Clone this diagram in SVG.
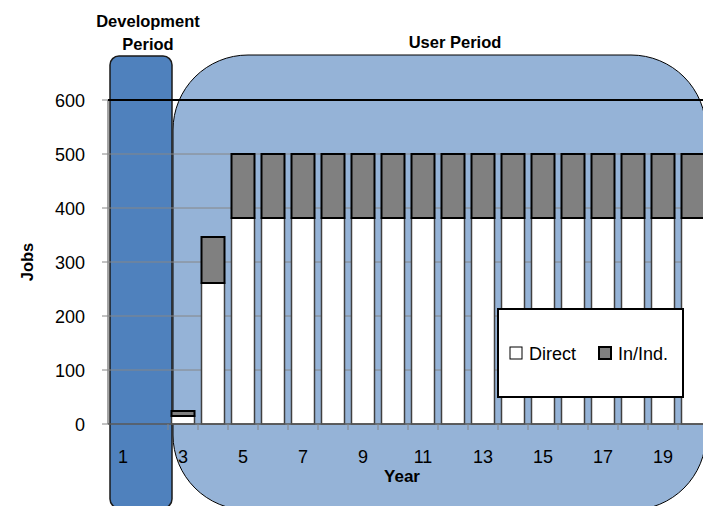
<svg xmlns="http://www.w3.org/2000/svg" width="703" height="506" viewBox="0 0 703 506">
<style>
.lbl{font-family:"Liberation Sans",Arial,sans-serif;font-size:18px;fill:#000}
.bold{font-family:"Liberation Sans",Arial,sans-serif;font-size:16.5px;font-weight:bold;fill:#000}
.grid{stroke:#868686;stroke-width:1}
.tick{stroke:#868686;stroke-width:1}
.ind{fill:#808080;stroke:#000;stroke-width:2}
.dir{fill:#fff;stroke:#404040;stroke-width:1.5}
</style>
<rect width="703" height="506" fill="#fff"/>
<g id="user-period">
<rect x="173" y="55" width="533" height="455" rx="75" ry="75" fill="#95B3D7" stroke="#000" stroke-width="1"/>
<text class="bold" x="455" y="48" text-anchor="middle">User Period</text>
</g>
<g id="dev-period">
<rect x="110" y="56" width="62" height="452" rx="9" ry="9" fill="#4F81BD" stroke="#1a1a1a" stroke-width="1.5"/>
<text class="bold" x="148" y="27" text-anchor="middle">Development</text>
<text class="bold" x="148" y="50" text-anchor="middle">Period</text>
</g>
<g id="axes">
<line class="grid" x1="108" y1="154" x2="703" y2="154"/>
<line class="grid" x1="108" y1="208" x2="703" y2="208"/>
<line class="grid" x1="108" y1="262" x2="703" y2="262"/>
<line class="grid" x1="108" y1="316" x2="703" y2="316"/>
<line class="grid" x1="108" y1="370" x2="703" y2="370"/>
<line x1="108" y1="100" x2="108" y2="424" stroke="#868686" stroke-width="1.5"/>
<g class="tick">
<line x1="102" y1="100" x2="108" y2="100"/><line x1="102" y1="154" x2="108" y2="154"/>
<line x1="102" y1="208" x2="108" y2="208"/><line x1="102" y1="262" x2="108" y2="262"/>
<line x1="102" y1="316" x2="108" y2="316"/><line x1="102" y1="370" x2="108" y2="370"/>
<line x1="102" y1="424" x2="108" y2="424"/>
</g>
<g class="lbl" text-anchor="end">
<text x="85" y="107">600</text><text x="85" y="161">500</text><text x="85" y="215">400</text>
<text x="85" y="269">300</text><text x="85" y="323">200</text><text x="85" y="377">100</text>
<text x="85" y="431">0</text>
</g>
<text class="bold" transform="translate(33,262) rotate(-90)" text-anchor="middle">Jobs</text>
</g>
<g id="bars">
<rect class="dir" x="171.5" y="416" width="23" height="8"/>
<rect class="ind" x="171.5" y="411" width="23" height="5"/>
<rect class="dir" x="201.5" y="283" width="23" height="141"/>
<rect class="ind" x="201.5" y="237" width="23" height="46"/>
<g id="bars-full">
<rect class="dir" x="231.5" y="218" width="23" height="206"/><rect class="ind" x="231.5" y="154" width="23" height="64"/>
<rect class="dir" x="261.5" y="218" width="23" height="206"/><rect class="ind" x="261.5" y="154" width="23" height="64"/>
<rect class="dir" x="291.5" y="218" width="23" height="206"/><rect class="ind" x="291.5" y="154" width="23" height="64"/>
<rect class="dir" x="321.5" y="218" width="23" height="206"/><rect class="ind" x="321.5" y="154" width="23" height="64"/>
<rect class="dir" x="351.5" y="218" width="23" height="206"/><rect class="ind" x="351.5" y="154" width="23" height="64"/>
<rect class="dir" x="381.5" y="218" width="23" height="206"/><rect class="ind" x="381.5" y="154" width="23" height="64"/>
<rect class="dir" x="411.5" y="218" width="23" height="206"/><rect class="ind" x="411.5" y="154" width="23" height="64"/>
<rect class="dir" x="441.5" y="218" width="23" height="206"/><rect class="ind" x="441.5" y="154" width="23" height="64"/>
<rect class="dir" x="471.5" y="218" width="23" height="206"/><rect class="ind" x="471.5" y="154" width="23" height="64"/>
<rect class="dir" x="501.5" y="218" width="23" height="206"/><rect class="ind" x="501.5" y="154" width="23" height="64"/>
<rect class="dir" x="531.5" y="218" width="23" height="206"/><rect class="ind" x="531.5" y="154" width="23" height="64"/>
<rect class="dir" x="561.5" y="218" width="23" height="206"/><rect class="ind" x="561.5" y="154" width="23" height="64"/>
<rect class="dir" x="591.5" y="218" width="23" height="206"/><rect class="ind" x="591.5" y="154" width="23" height="64"/>
<rect class="dir" x="621.5" y="218" width="23" height="206"/><rect class="ind" x="621.5" y="154" width="23" height="64"/>
<rect class="dir" x="651.5" y="218" width="23" height="206"/><rect class="ind" x="651.5" y="154" width="23" height="64"/>
<rect class="dir" x="681.5" y="218" width="23" height="206"/><rect class="ind" x="681.5" y="154" width="23" height="64"/>
</g>
</g>
<g id="x-axis">
<line x1="108" y1="424" x2="703" y2="424" stroke="#595959" stroke-width="1.5"/>
<g class="tick">
<line x1="168" y1="424" x2="168" y2="430"/><line x1="198" y1="424" x2="198" y2="430"/>
<line x1="228" y1="424" x2="228" y2="430"/><line x1="258" y1="424" x2="258" y2="430"/>
<line x1="288" y1="424" x2="288" y2="430"/><line x1="318" y1="424" x2="318" y2="430"/>
<line x1="348" y1="424" x2="348" y2="430"/><line x1="378" y1="424" x2="378" y2="430"/>
<line x1="408" y1="424" x2="408" y2="430"/><line x1="438" y1="424" x2="438" y2="430"/>
<line x1="468" y1="424" x2="468" y2="430"/><line x1="498" y1="424" x2="498" y2="430"/>
<line x1="528" y1="424" x2="528" y2="430"/><line x1="558" y1="424" x2="558" y2="430"/>
<line x1="588" y1="424" x2="588" y2="430"/><line x1="618" y1="424" x2="618" y2="430"/>
<line x1="648" y1="424" x2="648" y2="430"/><line x1="678" y1="424" x2="678" y2="430"/>
</g>
<g class="lbl" text-anchor="middle">
<text x="123" y="463">1</text><text x="183" y="463">3</text><text x="243" y="463">5</text>
<text x="303" y="463">7</text><text x="363" y="463">9</text><text x="423" y="463">11</text>
<text x="483" y="463">13</text><text x="543" y="463">15</text><text x="603" y="463">17</text>
<text x="663" y="463">19</text>
</g>
<text class="bold" x="402" y="482" text-anchor="middle" style="font-size:17px">Year</text>
</g>
<line id="line-600" x1="108" y1="100" x2="703" y2="100" stroke="#000" stroke-width="2"/>
<g id="legend">
<rect x="498" y="309" width="185" height="88" fill="#fff" stroke="#000" stroke-width="2"/>
<rect x="510" y="347" width="12" height="12" fill="#fff" stroke="#000" stroke-width="1"/>
<text class="lbl" x="529" y="360">Direct</text>
<rect x="599" y="347" width="12" height="12" fill="#808080" stroke="#000" stroke-width="2"/>
<text class="lbl" x="618" y="360">In/Ind.</text>
</g>
</svg>
